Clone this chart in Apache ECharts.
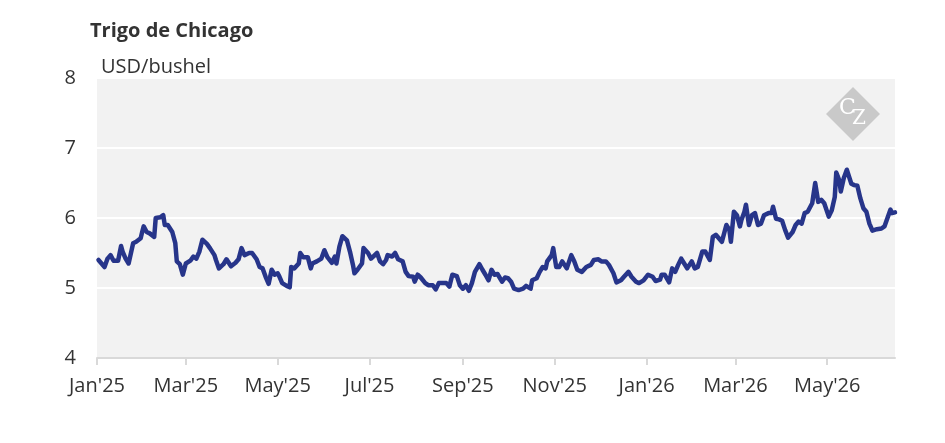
<!DOCTYPE html>
<html>
<head>
    <meta charset="utf-8">
    <title>Trigo de Chicago</title>
    <script src="https://cdn.jsdelivr.net/npm/echarts@6/dist/echarts.min.js"></script>
    <style>
        html, body { margin: 0; padding: 0; background: #fff; }
        #chart { width: 945px; height: 443px; }
    </style>
</head>
<body>
<div id="chart"></div>
<script>
    // data
    var dates = [
        '2025-01-02','2025-01-03','2025-01-06','2025-01-08','2025-01-10','2025-01-12','2025-01-15','2025-01-17','2025-01-18','2025-01-20',
        '2025-01-22','2025-01-25','2025-01-27','2025-01-28','2025-01-30','2025-01-31','2025-02-01','2025-02-03','2025-02-05','2025-02-08',
        '2025-02-09','2025-02-12','2025-02-14','2025-02-15','2025-02-17','2025-02-20','2025-02-22','2025-02-23','2025-02-25','2025-02-27',
        '2025-03-01','2025-03-04','2025-03-06','2025-03-08','2025-03-10','2025-03-12','2025-03-15','2025-03-17','2025-03-20','2025-03-21',
        '2025-03-23','2025-03-26','2025-03-28','2025-03-31','2025-04-03','2025-04-05','2025-04-07','2025-04-09','2025-04-12','2025-04-14',
        '2025-04-17','2025-04-19','2025-04-21','2025-04-23','2025-04-25','2025-04-27','2025-04-29','2025-05-01','2025-05-02','2025-05-04',
        '2025-05-07','2025-05-09','2025-05-10','2025-05-12','2025-05-15','2025-05-16','2025-05-18','2025-05-21','2025-05-23','2025-05-24',
        '2025-05-27','2025-05-30','2025-06-01','2025-06-03','2025-06-06','2025-06-08','2025-06-09','2025-06-11','2025-06-13','2025-06-16',
        '2025-06-18','2025-06-20','2025-06-21','2025-06-23','2025-06-26','2025-06-27','2025-06-30','2025-07-02','2025-07-06','2025-07-08',
        '2025-07-10','2025-07-12','2025-07-13','2025-07-16','2025-07-18','2025-07-20','2025-07-23','2025-07-25','2025-07-27','2025-07-30',
        '2025-07-31','2025-08-02','2025-08-04','2025-08-07','2025-08-09','2025-08-12','2025-08-14','2025-08-16','2025-08-19','2025-08-21',
        '2025-08-23','2025-08-25','2025-08-28','2025-08-30','2025-09-01','2025-09-03','2025-09-05','2025-09-07','2025-09-09','2025-09-12',
        '2025-09-14','2025-09-16','2025-09-18','2025-09-20','2025-09-22','2025-09-24','2025-09-27','2025-09-29','2025-10-01','2025-10-03',
        '2025-10-05','2025-10-08','2025-10-11','2025-10-13','2025-10-16','2025-10-17','2025-10-20','2025-10-22','2025-10-24','2025-10-26',
        '2025-10-27','2025-10-30','2025-10-31','2025-11-02','2025-11-04','2025-11-06','2025-11-09','2025-11-12','2025-11-14','2025-11-16',
        '2025-11-19','2025-11-22','2025-11-25','2025-11-27','2025-11-30','2025-12-02','2025-12-05','2025-12-07','2025-12-10','2025-12-12',
        '2025-12-15','2025-12-17','2025-12-20','2025-12-22','2025-12-25','2025-12-27','2025-12-30','2026-01-02','2026-01-05','2026-01-07',
        '2026-01-10','2026-01-11','2026-01-13','2026-01-14','2026-01-16','2026-01-18','2026-01-20','2026-01-22','2026-01-24','2026-01-26',
        '2026-01-28','2026-01-31','2026-02-02','2026-02-04','2026-02-05','2026-02-07','2026-02-09','2026-02-12','2026-02-14','2026-02-16',
        '2026-02-18','2026-02-20','2026-02-23','2026-02-25','2026-02-26','2026-02-28','2026-03-02','2026-03-04','2026-03-05','2026-03-07',
        '2026-03-08','2026-03-10','2026-03-12','2026-03-14','2026-03-16','2026-03-18','2026-03-20','2026-03-23','2026-03-25','2026-03-26',
        '2026-03-28','2026-03-30','2026-04-01','2026-04-03','2026-04-05','2026-04-08','2026-04-10','2026-04-12','2026-04-14','2026-04-16',
        '2026-04-18','2026-04-21','2026-04-23','2026-04-25','2026-04-27','2026-04-29','2026-05-02','2026-05-04','2026-05-06','2026-05-07',
        '2026-05-09','2026-05-10','2026-05-12','2026-05-14','2026-05-17','2026-05-19','2026-05-21','2026-05-23','2026-05-25','2026-05-27',
        '2026-05-29','2026-05-31','2026-06-03','2026-06-06','2026-06-08','2026-06-09','2026-06-12','2026-06-13','2026-06-15'
    ];
    var prices = [
        5.40, 5.40, 5.30, 5.42, 5.47, 5.39, 5.39, 5.60, 5.52, 5.42,
        5.35, 5.64, 5.66, 5.64, 5.71, 5.80, 5.88, 5.80, 5.78, 5.73,
        6.00, 6.01, 6.04, 5.90, 5.90, 5.80, 5.64, 5.38, 5.34, 5.19,
        5.35, 5.39, 5.45, 5.42, 5.52, 5.69, 5.63, 5.57, 5.47, 5.40,
        5.28, 5.34, 5.41, 5.31, 5.36, 5.41, 5.57, 5.47, 5.50, 5.50,
        5.41, 5.30, 5.28, 5.16, 5.06, 5.26, 5.19, 5.21, 5.17, 5.07,
        5.03, 5.01, 5.30, 5.28, 5.35, 5.50, 5.44, 5.44, 5.28, 5.35,
        5.38, 5.42, 5.54, 5.44, 5.36, 5.45, 5.35, 5.59, 5.74, 5.68,
        5.52, 5.33, 5.21, 5.26, 5.35, 5.57, 5.50, 5.42, 5.50, 5.38,
        5.34, 5.40, 5.47, 5.45, 5.50, 5.41, 5.38, 5.23, 5.17, 5.16,
        5.09, 5.19, 5.15, 5.07, 5.04, 5.04, 4.98, 5.07, 5.07, 5.07,
        5.02, 5.19, 5.17, 5.04, 4.99, 5.04, 4.96, 5.07, 5.23, 5.34,
        5.26, 5.19, 5.11, 5.26, 5.19, 5.20, 5.09, 5.15, 5.14, 5.09,
        4.99, 4.97, 4.99, 5.03, 4.99, 5.11, 5.14, 5.23, 5.30, 5.28,
        5.38, 5.47, 5.57, 5.30, 5.30, 5.38, 5.28, 5.47, 5.38, 5.26,
        5.23, 5.30, 5.33, 5.40, 5.41, 5.38, 5.38, 5.33, 5.21, 5.08,
        5.11, 5.16, 5.23, 5.16, 5.09, 5.07, 5.11, 5.19, 5.16, 5.10,
        5.12, 5.19, 5.19, 5.19, 5.08, 5.28, 5.23, 5.33, 5.42, 5.35,
        5.28, 5.38, 5.28, 5.30, 5.28, 5.52, 5.52, 5.40, 5.73, 5.76,
        5.71, 5.66, 5.90, 5.83, 5.66, 6.09, 6.04, 5.88, 5.97, 6.09,
        6.19, 5.90, 6.04, 6.07, 5.90, 5.92, 6.04, 6.07, 6.07, 6.16,
        5.99, 5.98, 5.96, 5.83, 5.72, 5.80, 5.90, 5.95, 5.92, 6.07,
        6.09, 6.21, 6.50, 6.23, 6.26, 6.21, 6.02, 6.11, 6.30, 6.65,
        6.54, 6.38, 6.57, 6.69, 6.49, 6.47, 6.46, 6.28, 6.14, 6.09,
        5.92, 5.82, 5.84, 5.85, 5.88, 5.90, 6.12, 6.07, 6.08
    ];
    var tickDates = ['2025-01-01', '2025-03-01', '2025-05-01', '2025-07-01', '2025-09-01', '2025-11-01',
        '2026-01-01', '2026-03-01', '2026-05-01'];
    var monthNames = ['Jan', 'Feb', 'Mar', 'Apr', 'May', 'Jun', 'Jul', 'Aug', 'Sep', 'Oct', 'Nov', 'Dec'];
    var xStart = '2025-01-01';
    var xEnd = '2026-06-15';

    var toTime = function (s) {
        var p = s.split('-');
        return Date.UTC(+p[0], +p[1] - 1, +p[2]);
    };

    var seriesData = [];
    for (var i = 0; i < dates.length; i++) {
        seriesData.push([toTime(dates[i]), prices[i]]);
    }
    var tickValues = tickDates.map(toTime);

    var chart = echarts.init(document.getElementById('chart'));
    var font = '"Open Sans", "Noto Sans", sans-serif';

    var option = {
        animation: false,
        textStyle: { fontFamily: font },
        grid: {
            left: 97,
            right: 50,
            top: 78,
            bottom: 85,
            show: true,
            backgroundColor: '#f2f2f2',
            borderWidth: 0
        },
        title: [
            {
                text: 'Trigo de Chicago',
                left: 85,
                top: 16,
                textStyle: { fontFamily: font, fontSize: 20, fontWeight: 'bold', color: '#333' }
            },
            {
                text: 'USD/bushel',
                left: 96,
                top: 52,
                textStyle: { fontFamily: font, fontSize: 20, fontWeight: 'normal', color: '#333' }
            }
        ],
        xAxis: {
            type: 'value',
            min: toTime(xStart),
            max: toTime(xEnd),
            axisLine: { show: true, lineStyle: { color: '#d9d9d9', width: 2 } },
            axisTick: {
                show: true,
                length: 7,
                customValues: tickValues,
                lineStyle: { color: '#d9d9d9', width: 2 }
            },
            axisLabel: {
                customValues: tickValues,
                margin: 18,
                fontSize: 20,
                color: '#333',
                fontFamily: font,
                showMinLabel: true,
                formatter: function (v) {
                    var d = new Date(v);
                    return monthNames[d.getUTCMonth()] + "'" + String(d.getUTCFullYear()).slice(2);
                }
            },
            splitLine: { show: false }
        },
        yAxis: {
            type: 'value',
            min: 4,
            max: 8,
            interval: 1,
            axisLine: { show: false },
            axisTick: { show: false },
            axisLabel: { margin: 21, fontSize: 20, color: '#333', fontFamily: font },
            splitLine: { show: true, lineStyle: { color: '#ffffff', width: 2 } }
        },
        graphic: [
            {
                type: 'polygon',
                shape: { points: [[853, 87], [880, 114], [853, 141], [826, 114]] },
                style: { fill: '#c9c9c9' },
                z: 1
            },
            {
                type: 'text',
                x: 839,
                y: 97,
                style: { text: 'C', fill: '#fff', font: '22px "DejaVu Serif", serif' },
                z: 2
            },
            {
                type: 'text',
                x: 852,
                y: 109,
                style: { text: 'Z', fill: '#fff', font: '20px "DejaVu Serif", serif' },
                z: 2
            }
        ],
        series: [
            {
                type: 'line',
                data: seriesData,
                showSymbol: false,
                symbol: 'none',
                lineStyle: { color: '#27358a', width: 4.5, join: 'round', cap: 'round' },
                z: 3
            }
        ]
    };
    chart.setOption(option);

    window.onresize = function () {
        chart.resize();
    };
</script>
</body>
</html>
